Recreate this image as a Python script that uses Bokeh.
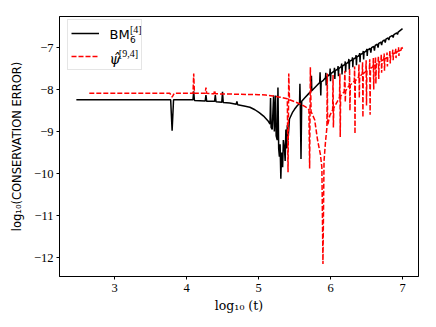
from bokeh.plotting import figure
from bokeh.models import (Range1d, FixedTicker, CustomJSTickFormatter, Legend,
                          LegendItem, Label)
from bokeh.embed import file_html
from bokeh.resources import INLINE

# ---- data (log10 t, log10 conservation error) ----
bm_x = [2.47, 3.78, 3.80, 3.82, 4.09, 4.10, 4.11, 4.26, 4.27, 4.28, 4.39, 4.40, 4.41,
        4.49, 4.50, 4.51, 4.60, 4.69, 4.70, 4.71, 4.80, 4.88, 4.95, 5.01, 5.07, 5.13,
        5.16, 5.167, 5.175, 5.19, 5.21, 5.22, 5.236, 5.245, 5.26, 5.27, 5.28, 5.29,
        5.30, 5.31, 5.32, 5.335, 5.345, 5.36, 5.37, 5.38, 5.39, 5.40, 5.41, 5.43,
        5.47, 5.50, 5.54, 5.57, 5.575, 5.58, 5.59, 5.60, 5.64, 5.70, 5.73, 5.735,
        5.74, 5.80, 5.85, 5.855, 5.865, 5.87, 5.90, 5.93, 5.935, 5.94, 5.945, 5.99,
        5.995, 6.00, 6.005, 6.05, 6.055, 6.06, 6.065, 6.10, 6.105, 6.11, 6.115, 6.15,
        6.155, 6.16, 6.165, 6.20, 6.205, 6.21, 6.215, 6.25, 6.255, 6.26, 6.265, 6.30,
        6.305, 6.31, 6.315, 6.35, 6.355, 6.36, 6.365, 6.40, 6.405, 6.41, 6.415, 6.45,
        6.455, 6.46, 6.465, 6.50, 6.505, 6.51, 6.515, 6.55, 6.56, 6.57, 6.60, 6.61,
        6.62, 6.65, 6.66, 6.67, 6.70, 6.71, 6.72, 6.75, 6.76, 6.77, 6.80, 6.81, 6.82,
        6.86, 6.87, 6.88, 6.92, 6.93, 6.94, 7.00]
bm_y = [-8.24, -8.24, -8.98, -8.24, -8.24, -8.04, -8.26, -8.27, -8.13, -8.28, -8.28,
        -8.13, -8.29, -8.30, -8.05, -8.31, -8.32, -8.35, -8.28, -8.36, -8.39, -8.42,
        -8.48, -8.55, -8.63, -8.74, -8.82, -8.20, -8.90, -8.95, -8.14, -9.00, -8.14,
        -9.10, -9.20, -7.95, -9.40, -9.60, -9.30, -10.12, -9.50, -9.85, -9.20, -9.40,
        -9.70, -8.95, -9.40, -8.85, -9.20, -8.70, -8.55, -8.47, -8.38, -8.33, -7.86,
        -8.32, -9.65, -8.28, -8.20, -8.09, -8.04, -7.67, -8.03, -7.92, -7.83, -7.59,
        -8.14, -7.82, -7.78, -7.72, -7.60, -7.90, -7.71, -7.63, -7.50, -7.80, -7.62,
        -7.56, -7.48, -7.75, -7.55, -7.51, -7.44, -7.68, -7.50, -7.45, -7.38, -7.64,
        -7.44, -7.40, -7.33, -7.58, -7.39, -7.34, -7.27, -7.52, -7.33, -7.29, -7.23,
        -7.47, -7.28, -7.24, -7.18, -7.42, -7.23, -7.18, -7.13, -7.35, -7.17, -7.13,
        -7.08, -7.28, -7.12, -7.07, -7.03, -7.20, -7.06, -7.02, -7.12, -7.00, -6.97,
        -7.07, -6.95, -6.92, -7.00, -6.90, -6.87, -6.94, -6.85, -6.82, -6.88, -6.80,
        -6.77, -6.82, -6.75, -6.71, -6.76, -6.69, -6.65, -6.69, -6.63, -6.55]

psi_x = [2.65, 3.77, 3.80, 3.83, 4.09, 4.10, 4.11, 4.26, 4.27, 4.28, 4.38, 4.39, 4.40,
         4.70, 5.00, 5.10, 5.20, 5.30, 5.40, 5.41, 5.42, 5.43, 5.52, 5.60, 5.66, 5.70,
         5.71, 5.72, 5.73, 5.78, 5.82, 5.86, 5.88, 5.895, 5.91, 5.93, 5.95, 5.955,
         5.96, 5.99, 6.03, 6.035, 6.04, 6.045, 6.09, 6.125, 6.13, 6.135, 6.14, 6.19,
         6.20, 6.205, 6.21, 6.26, 6.265, 6.27, 6.275, 6.33, 6.335, 6.34, 6.345, 6.39,
         6.395, 6.40, 6.405, 6.44, 6.445, 6.45, 6.455, 6.49, 6.495, 6.50, 6.505, 6.54,
         6.545, 6.55, 6.555, 6.59, 6.595, 6.60, 6.605, 6.62, 6.625, 6.63, 6.635, 6.66,
         6.665, 6.67, 6.675, 6.70, 6.705, 6.71, 6.715, 6.74, 6.745, 6.75, 6.755, 6.78,
         6.785, 6.79, 6.795, 6.82, 6.825, 6.83, 6.835, 6.86, 6.865, 6.87, 6.875, 6.90,
         6.905, 6.91, 6.915, 6.94, 6.945, 6.95, 6.955, 6.98, 6.985, 7.00]
psi_y = [-8.09, -8.09, -8.18, -8.09, -8.09, -7.62, -8.09, -8.09, -7.95, -8.09, -8.10,
         -8.02, -8.10, -8.11, -8.12, -8.13, -8.15, -8.18, -8.22, -9.97, -7.62, -8.24,
         -8.30, -8.36, -8.42, -8.48, -9.88, -7.47, -8.52, -8.72, -9.20, -9.55, -9.85,
         -12.15, -9.70, -9.25, -8.90, -7.62, -8.85, -8.62, -8.48, -7.65, -8.90, -8.44,
         -8.30, -8.18, -7.62, -9.13, -8.16, -8.05, -7.55, -8.30, -8.03, -7.90, -7.50,
         -8.50, -7.89, -7.80, -7.45, -9.05, -7.79, -7.70, -7.40, -8.20, -7.69, -7.63,
         -7.35, -8.66, -7.62, -7.57, -7.30, -8.38, -7.56, -7.51, -7.28, -8.60, -7.50,
         -7.45, -7.25, -8.00, -7.44, -7.41, -7.22, -7.86, -7.40, -7.36, -7.20, -7.75,
         -7.35, -7.32, -7.17, -7.60, -7.31, -7.28, -7.14, -7.55, -7.27, -7.24, -7.12,
         -7.45, -7.23, -7.20, -7.08, -7.38, -7.19, -7.16, -7.05, -7.30, -7.15, -7.12,
         -7.02, -7.25, -7.11, -7.09, -6.99, -7.20, -7.08, -7.06, -6.97, -7.03]

x_ticks = [3, 4, 5, 6, 7]
y_ticks = [-12, -11, -10, -9, -8, -7]

p = figure(width=427, height=319, output_backend="svg", toolbar_location=None,
           x_range=Range1d(2.236, 7.222), y_range=Range1d(-12.45, -6.26),
           min_border_left=59, min_border_right=9, min_border_top=16,
           min_border_bottom=43)
p.background_fill_color = "white"
p.border_fill_color = "white"
p.outline_line_color = "black"
p.outline_line_width = 1
p.xgrid.visible = False
p.ygrid.visible = False

fmt = CustomJSTickFormatter(code="return tick < 0 ? '\u2212' + Math.abs(tick) : String(tick);")
for ax, ticks in ((p.xaxis[0], x_ticks), (p.yaxis[0], y_ticks)):
    ax.ticker = FixedTicker(ticks=ticks)
    ax.formatter = fmt
    ax.minor_tick_line_color = None
    ax.major_tick_in = 0
    ax.major_tick_out = 3
    ax.axis_line_color = "black"
    ax.major_tick_line_color = "black"
    ax.major_label_text_font = "Liberation Serif"
    ax.major_label_text_font_size = "12.5px"
    ax.major_label_text_color = "black"
    ax.axis_label_text_font_style = "normal"
    ax.axis_label_text_color = "black"

p.xaxis.major_label_standoff = 4
p.yaxis.major_label_standoff = 3
p.xaxis.axis_label = "log\u2081\u2080 (t)"
p.xaxis.axis_label_text_font = "DejaVu Serif"
p.xaxis.axis_label_text_font_size = "12.5px"
p.xaxis.axis_label_standoff = 3
p.yaxis.axis_label = "log\u2081\u2080(CONSERVATION ERROR)"
p.yaxis.axis_label_text_font = "DejaVu Sans"
p.yaxis.axis_label_text_font_size = "11.5px"
p.yaxis.axis_label_standoff = 7

r_bm = p.line(bm_x, bm_y, line_color="black", line_width=1.5)
r_psi = p.line(psi_x, psi_y, line_color="red", line_width=1.5, line_dash="5 2")

legend = Legend(items=[LegendItem(label=" ", renderers=[r_bm]),
                       LegendItem(label="  ", renderers=[r_psi])],
                location=(8, 206), margin=0, padding=3, spacing=3,
                glyph_width=28, glyph_height=20, label_standoff=10,
                label_width=29, label_height=20, label_text_font_size="12px",
                border_line_color="#cccccc", border_line_width=1,
                background_fill_color=None, background_fill_alpha=0.0)
p.add_layout(legend)

# legend texts (mathematical labels)
def add_label(**kw):
    p.add_layout(Label(level="overlay", text_baseline="middle",
                       text_color="black", text_alpha=1.0, **kw))

add_label(x=2.931, y=-6.69, text="BM", text_font="DejaVu Sans", text_font_size="13px")
add_label(x=3.215, y=-6.81, text="6", text_font="DejaVu Sans", text_font_size="9px")
add_label(x=3.215, y=-6.571, text="[4]", text_font="Liberation Serif", text_font_size="10px")
add_label(x=2.931, y=-7.275, text="\u03c8\u0302", text_font="DejaVu Serif",
          text_font_style="italic", text_font_size="14px")
add_label(x=3.06, y=-7.143, text="[9,4]", text_font="Liberation Serif", text_font_size="10px")

open("out.html", "w").write(file_html(p, INLINE))
